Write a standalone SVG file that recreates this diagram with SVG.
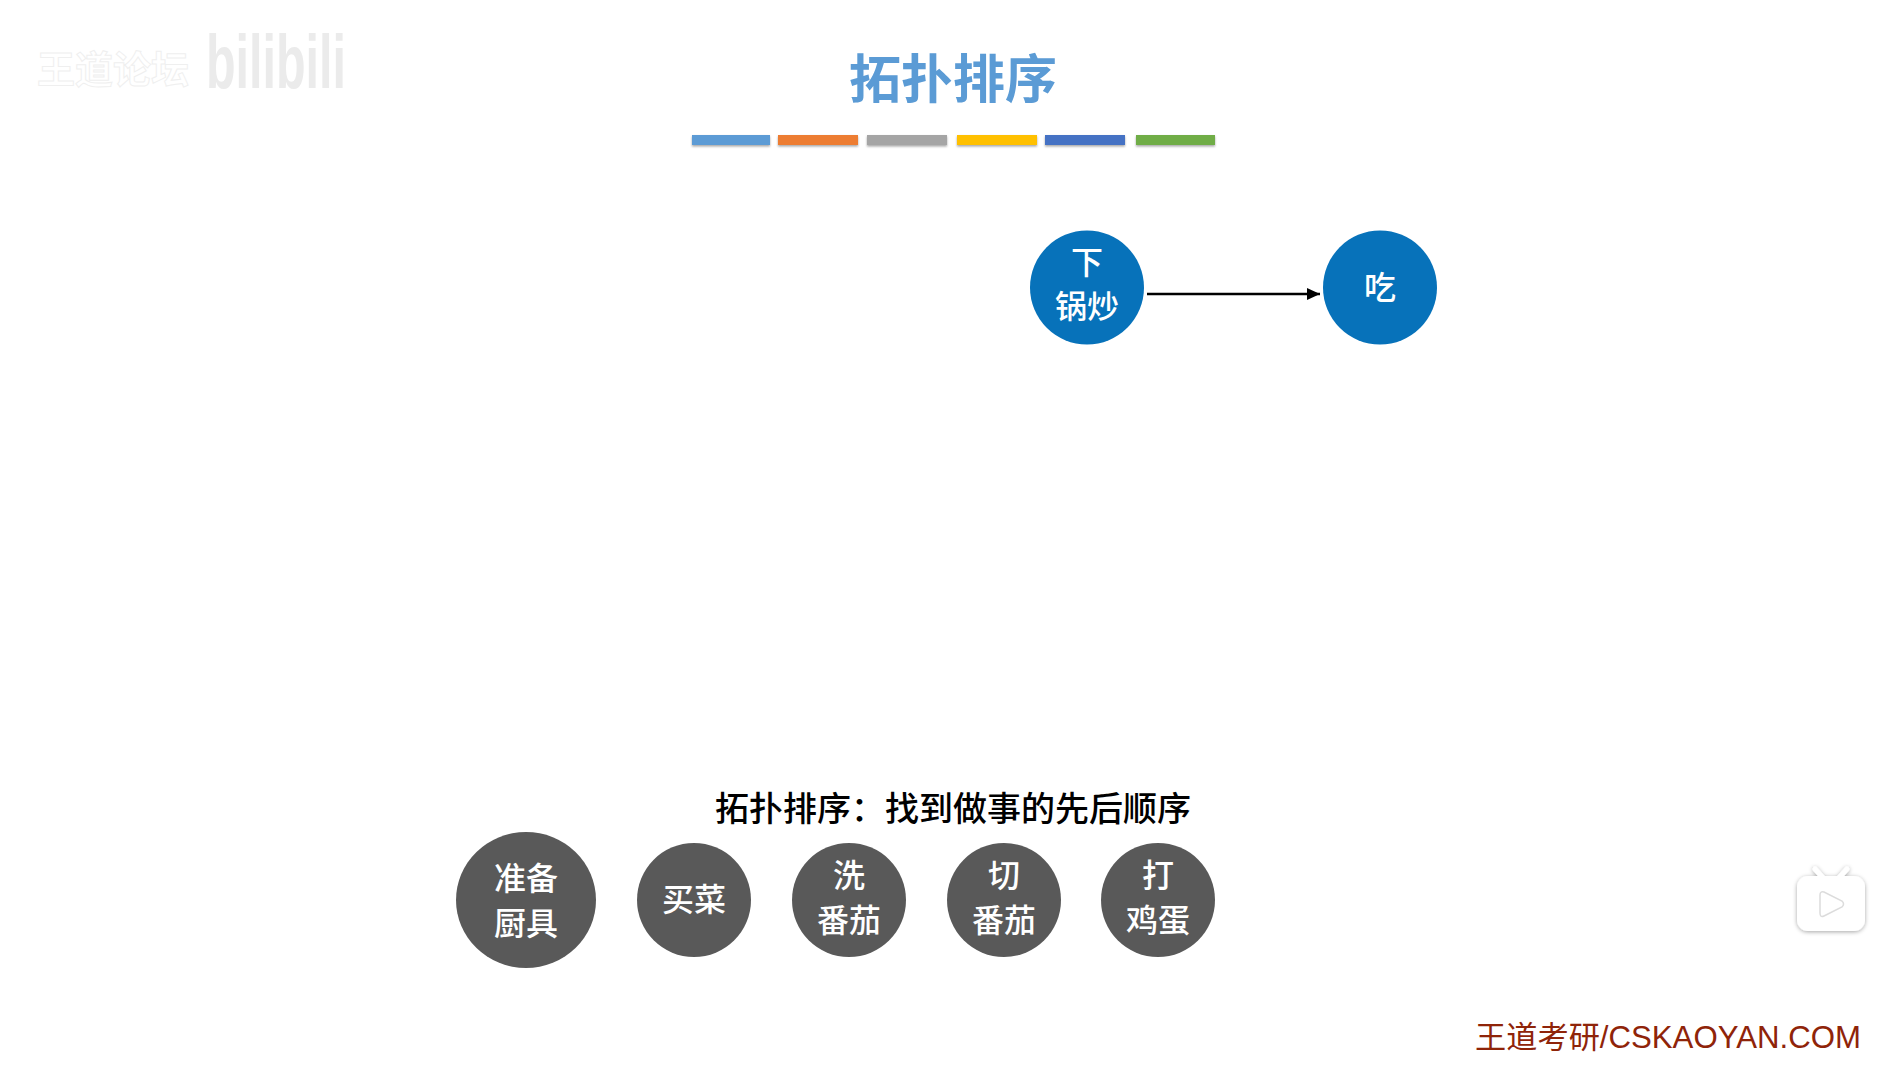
<svg xmlns="http://www.w3.org/2000/svg" width="1903" height="1065" viewBox="0 0 1903 1065">
<style>
text{font-family:"Noto Sans CJK SC","Liberation Sans",sans-serif;text-anchor:middle}
.n{fill:#fff;font-size:32px;font-weight:500}
.blue{fill:#0772ba}
.gray{fill:#595959}
.bar{filter:url(#sh)}
</style>
<defs>
<filter id="sh" x="-10%" y="-50%" width="120%" height="220%"><feDropShadow dx="0" dy="1.5" stdDeviation="1.2" flood-color="#000" flood-opacity=".35"/></filter>
<filter id="soft" x="-20%" y="-20%" width="140%" height="140%"><feDropShadow dx="0" dy="1" stdDeviation="2" flood-color="#000" flood-opacity=".35"/></filter>
<marker id="arr" markerUnits="userSpaceOnUse" markerWidth="14" markerHeight="14" refX="13" refY="7" orient="auto"><path d="M0 1 L13 7 L0 13 Z" fill="#000"/></marker>
</defs>
<rect width="1903" height="1065" fill="#fff"/>
<g id="watermark">
<text x="113" y="83" style="font-size:38px;font-weight:700;fill:#fff;stroke:#efefef;stroke-width:1">王道论坛</text>
<text x="276" y="88" style="font-family:'Liberation Sans',sans-serif;font-size:76px;font-weight:700;fill:#ebebeb" textLength="140" lengthAdjust="spacingAndGlyphs">bilibili</text>
</g>
<g id="title"><text x="953" y="98" style="font-size:52px;font-weight:700;fill:#5b9bd5">拓扑排序</text></g>
<g id="title-bars">
<rect class="bar" x="692" y="135" width="78" height="10" fill="#5b9bd5"/>
<rect class="bar" x="778" y="135" width="80" height="10" fill="#ed7d31"/>
<rect class="bar" x="867" y="135" width="80" height="10" fill="#a5a5a5"/>
<rect class="bar" x="957" y="135" width="80" height="10" fill="#ffc000"/>
<rect class="bar" x="1045" y="135" width="80" height="10" fill="#4472c4"/>
<rect class="bar" x="1136" y="135" width="79" height="10" fill="#70ad47"/>
</g>
<g id="connectors"><line x1="1147" y1="294" x2="1320" y2="294" stroke="#000" stroke-width="2.5" marker-end="url(#arr)"/></g>
<g id="node-cook"><circle class="blue" cx="1087" cy="287.5" r="57"/><text class="n" x="1087" y="274">下</text><text class="n" x="1087" y="318">锅炒</text></g>
<g id="node-eat"><circle class="blue" cx="1380" cy="287.5" r="57"/><text class="n" x="1380" y="299">吃</text></g>
<g id="caption"><text x="953" y="821" style="font-size:34px;font-weight:500;fill:#000">拓扑排序：找到做事的先后顺序</text></g>
<g id="node-prepare"><ellipse class="gray" cx="526" cy="900" rx="70" ry="68"/><text class="n" x="526" y="890">准备</text><text class="n" x="526" y="935">厨具</text></g>
<g id="node-buy"><circle class="gray" cx="694" cy="900" r="57"/><text class="n" x="694" y="911">买菜</text></g>
<g id="node-wash"><circle class="gray" cx="849" cy="900" r="57"/><text class="n" x="849" y="887">洗</text><text class="n" x="849" y="932">番茄</text></g>
<g id="node-cut"><circle class="gray" cx="1004" cy="900" r="57"/><text class="n" x="1004" y="887">切</text><text class="n" x="1004" y="932">番茄</text></g>
<g id="node-egg"><circle class="gray" cx="1158" cy="900" r="57"/><text class="n" x="1158" y="887">打</text><text class="n" x="1158" y="932">鸡蛋</text></g>
<g id="logo" filter="url(#soft)">
<path d="M1815 869 L1825 880 M1847 869 L1837 880" stroke="#fff" stroke-width="5" stroke-linecap="round"/>
<rect x="1797" y="876" width="68" height="55" rx="11" fill="#fff"/>
<path d="M1820 895 Q1820 891 1824 892 L1842 901 Q1845 904 1842 907 L1824 916 Q1820 918 1820 913 Z" fill="#fff" stroke="#dcdcdc" stroke-width="1.5"/>
</g>
<g id="footer"><text x="1668" y="1048" style="font-family:'Liberation Sans','Noto Sans CJK SC',sans-serif;font-size:31.2px;fill:#8f2409">王道考研/CSKAOYAN.COM</text></g>
</svg>
